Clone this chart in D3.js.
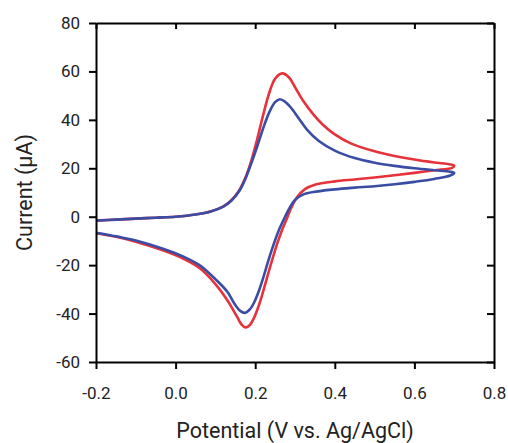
<!DOCTYPE html>
<html>
<head>
<meta charset="utf-8">
<script src="https://cdn.jsdelivr.net/npm/d3@7"></script>
<style>
  html, body { margin: 0; padding: 0; background: #fff; }
  svg { display: block; }
  text { font-family: Roboto, "Noto Sans", sans-serif; }
</style>
</head>
<body>
<svg id="chart" width="508" height="443"></svg>
<script>
// ---- data ----
const potentialTicks = [-0.2, 0.0, 0.2, 0.4, 0.6, 0.8];
const currentTicks = [-60, -40, -20, 0, 20, 40, 60, 80];

// red scan: forward (-0.2 -> 0.7) then reverse (0.7 -> -0.2)
const redPotential = [-0.2, -0.15, -0.1, -0.05, 0.0, 0.05, 0.09, 0.12, 0.14, 0.16, 0.175, 0.19, 0.205, 0.22, 0.235, 0.25, 0.268, 0.285, 0.30, 0.32, 0.345, 0.37, 0.40, 0.44, 0.50, 0.55, 0.60, 0.65, 0.69, 0.70,
  0.695, 0.65, 0.60, 0.55, 0.50, 0.45, 0.40, 0.35, 0.325, 0.305, 0.291, 0.28, 0.268, 0.258, 0.248, 0.238, 0.228, 0.218, 0.208, 0.197, 0.186, 0.175, 0.166, 0.155, 0.13, 0.10, 0.06, 0.02, -0.03, -0.1, -0.15, -0.2];
const redCurrent = [-1.6, -1.2, -0.8, -0.4, 0.0, 0.9, 2.3, 4.3, 6.8, 11, 16, 23, 32, 42, 51, 57, 59.2, 57.5, 53.5, 48, 42.5, 38, 34, 30.3, 27, 25.1, 23.6, 22.4, 21.6, 21.0,
  20.2, 19.2, 18.1, 17.1, 16.2, 15.4, 14.6, 13.2, 11.4, 8, 3.8, -0.5, -5.3, -9.8, -14.9, -20.4, -26.2, -32, -37.2, -41.8, -44.8, -45.7, -44.6, -41.5, -34.5, -27.8, -21.2, -17.4, -14, -10.3, -8.3, -6.8];

// blue scan
const bluePotential = [-0.2, -0.15, -0.1, -0.05, 0.0, 0.05, 0.09, 0.12, 0.14, 0.16, 0.175, 0.19, 0.205, 0.22, 0.235, 0.25, 0.262, 0.275, 0.29, 0.31, 0.33, 0.36, 0.40, 0.45, 0.50, 0.55, 0.60, 0.65, 0.69, 0.70,
  0.69, 0.65, 0.60, 0.55, 0.50, 0.45, 0.40, 0.35, 0.32, 0.30, 0.287, 0.275, 0.262, 0.25, 0.24, 0.23, 0.22, 0.21, 0.199, 0.187, 0.174, 0.163, 0.15, 0.13, 0.10, 0.06, 0.02, -0.03, -0.1, -0.15, -0.2];
const blueCurrent = [-1.6, -1.2, -0.8, -0.4, 0.0, 0.9, 2.3, 4.2, 6.6, 10.6, 15.5, 22, 29, 36.5, 43, 47.3, 48.5, 47.5, 45, 40.5, 36, 31.3, 27.3, 24.2, 22.3, 21, 20, 19.2, 18.6, 18.1,
  17, 15.6, 14.4, 13.4, 12.6, 12, 11.3, 10.3, 9.1, 6.9, 3.8, 0.0, -4.6, -9.7, -14.5, -19.8, -25.3, -30.3, -34.8, -38.2, -39.7, -39, -36.5, -31, -25.8, -20, -16.5, -13.3, -9.8, -8.1, -6.6];

const xTitle = "Potential (V vs. Ag/AgCl)";
const yTitle = "Current (\u03BCA)";

// ---- layout ----
const plotLeft = 96, plotRight = 494, plotTop = 23, plotBottom = 362;
const svg = d3.select("#chart");

const x = d3.scaleLinear().domain([-0.2, 0.8]).range([plotLeft, plotRight]);
const y = d3.scaleLinear().domain([-60, 80]).range([plotBottom, plotTop]);

const line = d3.line()
  .x(d => x(d[0]))
  .y(d => y(d[1]))
  .curve(d3.curveCatmullRom.alpha(0.5));

const series = [
  { v: redPotential, i: redCurrent, color: "#e5323b" },
  { v: bluePotential, i: blueCurrent, color: "#3a4ca4" }
];

series.forEach(s => {
  svg.append("path")
    .datum(s.v.map((v, k) => [v, s.i[k]]))
    .attr("fill", "none")
    .attr("stroke", s.color)
    .attr("stroke-width", 2.6)
    .attr("stroke-linejoin", "round")
    .attr("d", line);
});

// ---- axes ----
function styleAxis(g) {
  g.selectAll(".domain").attr("stroke", "#000").attr("stroke-width", 2);
  g.selectAll(".tick line").attr("stroke", "#000").attr("stroke-width", 2);
  g.selectAll(".tick text").attr("fill", "#222").style("font-size", "17px")
    .style("font-family", "Roboto, 'Noto Sans', sans-serif");
}

svg.append("g")
  .attr("transform", `translate(0,${plotTop})`)
  .call(d3.axisTop(x).tickValues(potentialTicks).tickSize(-6).tickSizeOuter(0).tickFormat(""))
  .call(styleAxis);

svg.append("g")
  .attr("transform", `translate(${plotRight},0)`)
  .call(d3.axisRight(y).tickValues(currentTicks).tickSize(-7).tickSizeOuter(0).tickFormat(""))
  .call(styleAxis);

svg.append("g")
  .attr("transform", `translate(0,${plotBottom})`)
  .call(d3.axisBottom(x).tickValues(potentialTicks).tickSize(7).tickSizeOuter(0).tickPadding(18).tickFormat(d => d.toFixed(1)))
  .call(styleAxis);

svg.append("g")
  .attr("transform", `translate(${plotLeft},0)`)
  .call(d3.axisLeft(y).tickValues(currentTicks).tickSize(7).tickSizeOuter(0).tickPadding(9).tickFormat(d => String(d)))
  .call(styleAxis);

// ---- titles ----
svg.append("text")
  .attr("x", 295)
  .attr("y", 438)
  .attr("text-anchor", "middle")
  .attr("fill", "#222")
  .style("font-size", "21.5px")
  .text(xTitle);

svg.append("text")
  .attr("transform", `translate(32,${(plotTop + plotBottom) / 2}) rotate(-90)`)
  .attr("text-anchor", "middle")
  .attr("fill", "#222")
  .style("font-size", "21.5px")
  .text(yTitle);
</script>
</body>
</html>
